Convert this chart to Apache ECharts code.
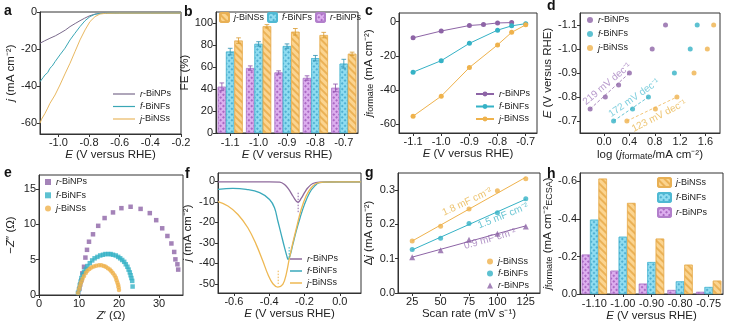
<!DOCTYPE html>
<html><head><meta charset="utf-8">
<script src="https://cdn.jsdelivr.net/npm/echarts@6/dist/echarts.min.js"></script>
<style>html,body{margin:0;padding:0;background:#fff}#c{width:737px;height:328px}</style>
</head><body><div id="c"></div>
<script>
// ---------- DATA ----------
// a: LSV
const aR_E = [-1.12,-1.09,-1.055,-1.02,-0.99,-0.955,-0.924,-0.89,-0.859,-0.83,-0.8,-0.772,-0.75,-0.729,-0.7,-0.663,-0.6,-0.5,-0.4,-0.3,-0.2];
const aR_j = [-16.9,-15.6,-14.2,-12.9,-11.5,-9.8,-7.9,-6.2,-4.7,-3.4,-2.2,-1.4,-1.0,-0.8,-0.7,-0.6,-0.6,-0.6,-0.6,-0.6,-0.6];
const aF_E = [-1.12,-1.1,-1.087,-1.07,-1.055,-1.04,-1.022,-0.99,-0.957,-0.924,-0.892,-0.859,-0.826,-0.794,-0.761,-0.729,-0.7,-0.663,-0.6,-0.5,-0.4,-0.3,-0.2];
const aF_j = [-37.7,-35.5,-34.0,-32.8,-30.4,-29.2,-26.9,-23.2,-19.6,-15.1,-11.5,-7.9,-4.7,-2.5,-1.2,-0.8,-0.7,-0.6,-0.6,-0.6,-0.6,-0.6,-0.6];
const aJ_E = [-1.12,-1.11,-1.1,-1.087,-1.07,-1.055,-1.022,-0.99,-0.957,-0.924,-0.892,-0.859,-0.826,-0.794,-0.761,-0.729,-0.7,-0.685,-0.63,-0.5,-0.4,-0.3,-0.2];
const aJ_j = [-60.2,-58.0,-58.5,-54.8,-52.0,-49.4,-44.9,-39.5,-33.5,-27.7,-21.5,-15.1,-9.7,-5.2,-2.5,-1.1,-0.8,-0.7,-0.6,-0.6,-0.6,-0.6,-0.6];
// b: FE
const bCats = ['-1.1','-1.0','-0.9','-0.8','-0.7'];
const bR = [42,59,55,50,41], bR_err = [3.5,2,1.5,2,3.5];
const bF = [74,81,79,68,63], bF_err = [3,2,2,2.5,4];
const bJ = [84,97,92,89,72], bJ_err = [2.5,1.5,3,2.5,1.5];
// c: partial current density
const cR_E = [-1.1,-1.0,-0.9,-0.85,-0.8,-0.75], cR = [-9.5,-5.5,-2.3,-1.7,-0.8,-0.6];
const cFJ_E = [-1.1,-1.0,-0.9,-0.8,-0.75,-0.7];
const cF = [-29.5,-22.8,-12.7,-5.0,-2.5,-1.2];
const cJ = [-55.2,-43.5,-26.8,-13.6,-6.3,-1.9];
// d: Tafel
const dR_E = [-0.75,-0.8,-0.85,-0.9,-1.0,-1.1], dR_log = [-0.22,0.02,0.23,0.40,0.76,0.97];
const dFJ_E = [-0.7,-0.75,-0.8,-0.9,-1.0,-1.1];
const dF_log = [0.15,0.45,0.70,1.11,1.36,1.47];
const dJ_log = [0.36,0.81,1.15,1.42,1.63,1.73];
const dSlopes = ['219 mV dec⁻¹','172 mV dec⁻¹','123 mV dec⁻¹'];
// e: Nyquist
const eR_x = [9.8,10.1,10.3,10.6,10.85,11.26,11.6,12.0,12.5,13.5,14.8,16.4,18.5,20.6,22.9,25.4,27.7,29.3,30.8,32.1,33.1,33.8,34.1,34.6,34.8];
const eR_y = [0.3,0.9,1.5,2.1,3.07,4.0,5.3,6.4,7.55,8.6,9.8,10.9,11.7,12.3,12.5,12.2,11.6,10.6,9.45,8.36,7.3,6.1,5.05,4.35,3.6];
const eF_x = [9.75,10.0,10.2,10.4,10.6,10.9,11.26,11.7,12.1,12.7,13.3,13.9,14.6,15.3,16.0,16.6,17.3,17.9,18.5,19.2,19.8,20.3,20.8,21.3,21.7,22.1,22.4,22.7,22.9,23.1,23.3,23.4];
const eF_y = [0.3,0.8,1.4,1.9,2.4,2.9,3.3,3.7,4.1,4.5,4.9,5.2,5.4,5.6,5.7,5.8,5.8,5.8,5.7,5.6,5.4,5.2,4.96,4.7,4.35,4.0,3.6,3.2,2.8,2.4,2.0,1.2];
const eJ_x = [9.75,10.0,10.2,10.4,10.6,10.9,11.26,11.7,12.1,12.6,13.1,13.7,14.3,15.0,15.6,16.2,16.7,17.2,17.7,18.1,18.5,18.9,19.2,19.4,19.6,19.8,19.9,20.0];
const eJ_y = [0.3,0.8,1.2,1.6,1.9,2.3,2.7,3.1,3.45,3.7,3.9,4.05,4.15,4.2,4.2,4.1,4.0,3.8,3.6,3.35,3.07,2.75,2.45,2.1,1.75,1.4,1.1,0.7];
// f: OH- adsorption
const fR_E = [-0.69,-0.5,-0.4,-0.34,-0.313,-0.289,-0.266,-0.247,-0.236,-0.219,-0.2,-0.181,-0.153,-0.115,-0.05,0.05,0.12];
const fR_j = [-0.2,-0.2,-0.2,-0.3,-1.5,-3.9,-7.1,-9.6,-10.1,-8.3,-5.5,-3.1,-1.0,-0.3,-0.2,-0.2,-0.2];
const fF_E = [-0.69,-0.606,-0.53,-0.454,-0.398,-0.37,-0.351,-0.332,-0.313,-0.3,-0.293,-0.281,-0.266,-0.247,-0.225,-0.2,-0.171,-0.143,-0.115,-0.068,0.0,0.12];
const fF_j = [-3.9,-3.4,-3.9,-5.5,-8.8,-12.8,-19.3,-25.8,-32.3,-36.4,-38,-35.9,-30.7,-24.2,-17.7,-11.2,-5.5,-2.3,-0.6,-0.3,-0.2,-0.2];
const fJ_E = [-0.69,-0.634,-0.577,-0.521,-0.474,-0.436,-0.407,-0.379,-0.351,-0.323,-0.304,-0.285,-0.266,-0.243,-0.219,-0.191,-0.162,-0.134,-0.096,0.0,0.12];
const fJ_j = [-9.9,-12,-16.1,-22.6,-30.7,-38.8,-45.4,-49.9,-51.5,-50.2,-45.4,-37.2,-29.9,-21.8,-13.7,-7.1,-3.1,-1.0,-0.3,-0.2,-0.2];
const fMark_E = [-0.236,-0.287,-0.349], fMark_top = [-5.5,-32,-43.5], fMark_bot = [-15,-37.5,-50];
// g: double-layer capacitance
const gScan = [25,50,75,100,125];
const gJ = [0.152,0.195,0.245,0.298,0.333];
const gF = [0.127,0.160,0.203,0.234,0.275];
const gR = [0.104,0.125,0.155,0.173,0.194];
const gCdl = ['1.8 mF cm⁻²','1.5 mF cm⁻²','0.9 mF cm⁻²'];
// h: ECSA-normalized
const hCats = ['-1.10','-1.00','-0.90','-0.80','-0.75'];
const hR = [-0.21,-0.124,-0.055,-0.021,-0.011];
const hF = [-0.396,-0.305,-0.17,-0.067,-0.037];
const hJ = [-0.615,-0.485,-0.295,-0.156,-0.071];

// ---------- STYLE ----------
const FF = 'Liberation Sans, Arial, sans-serif';
const P = '#8d64a6', C = '#35b2c6', O = '#efb24c';
const PL = '#7a6a8c', CL = '#3aa7b5', OL = '#e9b860';
const names = ['r-BiNPs','f-BiNFs','j-BiNSs'];
const N = (n, p) => n + '#' + p;
const chart = echarts.init(document.getElementById('c'));

const grids = [
  {left:40, top:12, width:141, height:122},
  {left:216, top:12, width:142, height:121},
  {left:399, top:13, width:138, height:120},
  {left:580, top:13, width:140, height:120},
  {left:39, top:175, width:144, height:120},
  {left:218, top:173, width:143, height:120},
  {left:398, top:173, width:142, height:120},
  {left:580, top:173, width:143, height:121}
].map(g => Object.assign({show:true, borderColor:'#333', borderWidth:1, backgroundColor:'transparent'}, g));

const f1 = v => v.toFixed(1);
const f0 = v => String(Math.round(v));
const nameStyle = {fontSize:11.5, color:'#222', fontFamily:FF,
  rich:{i:{fontStyle:'italic', fontSize:11.5, fontFamily:FF}, s:{fontSize:9, fontFamily:FF, verticalAlign:'bottom', padding:[4,0,0,0]}}};
function vAx(gi, min, max, ticks, fmt, extra) {
  return Object.assign({type:'value', gridIndex:gi, min, max,
    axisLine:{show:true, onZero:false, lineStyle:{color:'#333', width:1}},
    axisTick:{show:true, length:3, inside:false, customValues:ticks, lineStyle:{color:'#333'}},
    axisLabel:{customValues:ticks, fontSize:11, color:'#222', margin:3, fontFamily:FF, formatter:fmt},
    splitLine:{show:false}, nameLocation:'middle', nameTextStyle:nameStyle}, extra);
}
function cAx(gi, cats, extra) {
  return Object.assign({type:'category', gridIndex:gi, data:cats, boundaryGap:true,
    axisLine:{show:true, lineStyle:{color:'#333', width:1}},
    axisTick:{show:true, length:3, alignWithLabel:true, lineStyle:{color:'#333'}},
    axisLabel:{fontSize:11, color:'#222', margin:4, fontFamily:FF, interval:0},
    splitLine:{show:false}, nameLocation:'middle', nameTextStyle:nameStyle}, extra);
}
const EX = '{i|E} (V versus RHE)';
const xAxis = [
  vAx(0, -1.12, -0.2, [-1.0,-0.8,-0.6,-0.4,-0.2], f1, {name:EX, nameGap:13}),
  cAx(1, bCats, {name:EX, nameGap:14}),
  vAx(2, -1.15, -0.66, [-1.1,-1.0,-0.9,-0.8,-0.7], f1, {name:EX, nameGap:14}),
  vAx(3, -0.38, 1.83, [-0.4,0,0.4,0.8,1.2,1.6], f1, {name:'log ({i|j}{s|formate}/mA cm⁻²)', nameGap:15}),
  vAx(4, 0, 36, [0,10,20,30], f0, {name:'{i|Z}′ (Ω)', nameGap:14}),
  vAx(5, -0.69, 0.12, [-0.6,-0.4,-0.2,0.0], f1, {name:EX, nameGap:12}),
  vAx(6, 12.5, 137.5, gScan, f0, {name:'Scan rate (mV s⁻¹)', nameGap:12}),
  cAx(7, hCats, {name:EX, nameGap:14})
];
const yAxis = [
  vAx(0, -66, 0, [0,-20,-40,-60], f0, {name:'{i|j} (mA cm⁻²)', nameGap:21}),
  vAx(1, 0, 110, [0,20,40,60,80,100], f0, {name:'FE (%)', nameGap:24}),
  vAx(2, -65, 5, [0,-20,-40,-60], f0, {name:'{i|j}{s|formate} (mA cm⁻²)', nameGap:24}),
  vAx(3, -1.15, -0.65, [-1.1,-1.0,-0.9,-0.8,-0.7], f1, {inverse:true, name:'{i|E} (V versus RHE)', nameGap:22}),
  vAx(4, 0, 17, [0,5,10,15], f0, {name:'−{i|Z}″ (Ω)', nameGap:22}),
  vAx(5, -54.4, 4.1, [0,-10,-20,-30,-40,-50], f0, {name:'{i|j} (mA cm⁻²)', nameGap:24}),
  vAx(6, 0, 0.35, [0,0.1,0.2,0.3], f1, {name:'Δ{i|j} (mA cm⁻²)', nameGap:23}),
  vAx(7, -0.645, 0, [0,-0.2,-0.4,-0.6], f1, {inverse:true, name:'{i|j}{s|formate} (mA cm⁻²{s|ECSA})', nameGap:22})
];

const xy = (xs, ys) => xs.map((x, i) => [x, ys[i]]);
const series = [];
function line(gi, nm, xs, ys, color, extra) {
  series.push(Object.assign({type:'line', name:nm, xAxisIndex:gi, yAxisIndex:gi, data:xy(xs, ys),
    symbol:'none', lineStyle:{color, width:1}, itemStyle:{color}, animation:false}, extra));
}
function scat(gi, nm, xs, ys, color, sym, size) {
  series.push({type:'scatter', name:nm, xAxisIndex:gi, yAxisIndex:gi, data:xy(xs, ys),
    symbol:sym, symbolSize:size, itemStyle:{color}, animation:false});
}
// a
line(0, N(names[0],'a'), aR_E, aR_j, PL);
line(0, N(names[1],'a'), aF_E, aF_j, CL);
line(0, N(names[2],'a'), aJ_E, aJ_j, OL);
// b bars
const decalO = {symbol:'rect', symbolSize:1, color:'rgba(222,150,40,0.55)', dashArrayX:[1,0], dashArrayY:[1.2,2.2], rotation:Math.PI/4};
const decalC = {symbol:'rect', symbolSize:1, color:'rgba(30,140,185,0.55)', dashArrayX:[1.3,1.3], dashArrayY:[1.3,1.3], rotation:Math.PI/4};
const decalP = {symbol:'rect', symbolSize:1, color:'rgba(130,50,160,0.55)', dashArrayX:[1.3,1.3], dashArrayY:[1.3,1.3], rotation:Math.PI/4};
const barStyles = [
  {color:'#dcaeee', borderColor:'#b27fcb', borderWidth:0.6, decal:decalP},
  {color:'#8fdcf0', borderColor:'#4fb9d3', borderWidth:0.6, decal:decalC},
  {color:'#fbd48f', borderColor:'#e8b055', borderWidth:0.6, decal:decalO}
];
function bars(gi, p, vals) {
  vals.forEach((v, k) => series.push({type:'bar', name:N(names[k], p), xAxisIndex:gi, yAxisIndex:gi, data:v,
    barGap:'0%', barCategoryGap:'12%', itemStyle:barStyles[k], animation:false}));
}
bars(1, 'b', [bR, bF, bJ]);
function errSeries(gi, vals, errs, idx, color) {
  series.push({type:'custom', xAxisIndex:gi, yAxisIndex:gi, silent:true, z:5, animation:false,
    data: vals.map((v, i) => [i, v, errs[i]]), encode:{x:0, y:1},
    renderItem: (params, api) => {
      const i = api.value(0), v = api.value(1), e = api.value(2);
      const cw = api.size([1, 0])[0], bw = cw * 0.88 / 3;
      const x = api.coord([i, v])[0] + (idx - 1) * bw;
      const y1 = api.coord([i, v + e])[1], y2 = api.coord([i, v - e])[1];
      const hw = bw * 0.28, st = {stroke:color, lineWidth:0.8};
      return {type:'group', children:[
        {type:'line', shape:{x1:x, y1:y1, x2:x, y2:y2}, style:st},
        {type:'line', shape:{x1:x-hw, y1:y1, x2:x+hw, y2:y1}, style:st},
        {type:'line', shape:{x1:x-hw, y1:y2, x2:x+hw, y2:y2}, style:st}]};
    }});
}
errSeries(1, bR, bR_err, 0, '#8a4fa8');
errSeries(1, bF, bF_err, 1, '#2b8fb0');
errSeries(1, bJ, bJ_err, 2, '#d99a30');
// c
const cOpt = () => ({symbol:'circle', symbolSize:5, showSymbol:true});
line(2, N(names[0],'c'), cR_E, cR, P, cOpt());
line(2, N(names[1],'c'), cFJ_E, cF, C, cOpt());
line(2, N(names[2],'c'), cFJ_E, cJ, O, cOpt());
// d
scat(3, N(names[0],'d'), dR_log, dR_E, P, 'circle', 5);
scat(3, N(names[1],'d'), dF_log, dFJ_E, C, 'circle', 5);
scat(3, N(names[2],'d'), dJ_log, dFJ_E, O, 'circle', 5);
const dash = (gi, pts, color) => series.push({type:'line', xAxisIndex:gi, yAxisIndex:gi, data:pts, symbol:'none', silent:true,
  lineStyle:{color, width:1, type:[3,2], opacity:0.75}, animation:false});
dash(3, [[dR_log[0], dR_E[0]], [dR_log[3], dR_E[3]]], P);
dash(3, [[dF_log[0], dFJ_E[0]], [dF_log[2], dFJ_E[2]]], C);
dash(3, [[dJ_log[0], dFJ_E[0]], [dJ_log[2], dFJ_E[2]]], O);
// e
scat(4, N(names[0],'e'), eR_x, eR_y, P, 'rect', 4.5);
scat(4, N(names[1],'e'), eF_x, eF_y, C, 'rect', 4.5);
scat(4, N(names[2],'e'), eJ_x, eJ_y, O, 'circle', 4.5);
// f
line(5, N(names[0],'f'), fR_E, fR_j, '#8e6a9c', {smooth:0.4, lineStyle:{color:'#8e6a9c', width:1.3}});
line(5, N(names[1],'f'), fF_E, fF_j, '#3aa9bb', {smooth:0.4, lineStyle:{color:'#3aa9bb', width:1.3}});
line(5, N(names[2],'f'), fJ_E, fJ_j, '#eeb853', {smooth:0.4, lineStyle:{color:'#eeb853', width:1.3}});
[P, C, O].forEach((col, k) => series.push({type:'line', xAxisIndex:5, yAxisIndex:5, silent:true, symbol:'none', animation:false,
  data:[[fMark_E[k], fMark_top[k]], [fMark_E[k], fMark_bot[k]]], lineStyle:{color:col, width:1, type:[1.5,1.5]}}));
// g
function fit(xs, ys) {
  const n = xs.length, mx = xs.reduce((a,b)=>a+b)/n, my = ys.reduce((a,b)=>a+b)/n;
  let sxy = 0, sxx = 0; xs.forEach((x,i) => { sxy += (x-mx)*(ys[i]-my); sxx += (x-mx)*(x-mx); });
  const b = sxy/sxx, a = my - b*mx;
  return [[xs[0], a + b*xs[0]], [xs[n-1], a + b*xs[n-1]]];
}
[[gJ, O], [gF, C], [gR, P]].forEach(([ys, col]) => series.push({type:'line', xAxisIndex:6, yAxisIndex:6, silent:true,
  symbol:'none', data:fit(gScan, ys), lineStyle:{color:col, width:1}, animation:false}));
scat(6, N(names[2],'g'), gScan, gJ, O, 'circle', 5);
scat(6, N(names[1],'g'), gScan, gF, C, 'circle', 5);
scat(6, N(names[0],'g'), gScan, gR, P, 'triangle', 6);
// h
bars(7, 'h', [hR, hF, hJ]);

// ---------- LEGENDS ----------
const legFmt = name => { const b = name.split('#')[0]; return '{i|' + b[0] + '}{n|' + b.slice(1) + '}'; };
const legText = {fontSize:9, color:'#222', fontFamily:FF, rich:{i:{fontStyle:'italic', fontSize:9, fontFamily:FF}, n:{fontSize:9, fontFamily:FF}}};
function leg(p, order, opts) {
  return Object.assign({data:order.map(k => N(names[k], p)), formatter:legFmt, textStyle:legText, padding:0,
    orient:'vertical', itemGap:3, itemHeight:10, selectedMode:false}, opts);
}
const legend = [
  leg('a', [0,1,2], {left:113, top:89.5, itemWidth:22, itemHeight:1.2, icon:'rect', itemGap:3.5}),
  leg('b', [2,1,0], {left:219, top:12, orient:'horizontal', itemWidth:9, itemHeight:9, itemGap:3}),
  leg('c', [0,1,2], {left:475, top:89.5, itemWidth:18, itemHeight:6, itemGap:3.5}),
  leg('d', [0,1,2], {left:587, top:15.5, itemWidth:6, itemHeight:6, itemGap:5}),
  leg('e', [0,1,2], {left:45, top:177.5, itemWidth:6, itemHeight:6, itemGap:4.3}),
  leg('f', [0,1,2], {left:290, top:254.5, itemWidth:12, itemHeight:1.5, icon:'rect', itemGap:3}),
  leg('g', [2,1,0], {left:487, top:257, itemWidth:6, itemHeight:6, itemGap:3}),
  leg('h', [2,1,0], {left:657, top:177, itemWidth:13, itemHeight:9, itemGap:4})
];

// ---------- ANNOTATIONS ----------
const letters = [['a',4,4],['b',184,5],['c',365,4],['d',547,-1],['e',4,166],['f',185,167],['g',365,166],['h',547,167]];
const graphic = letters.map(([t, x, y]) => ({type:'text', x, y, silent:true,
  style:{text:t, font:'bold 14px ' + FF, fill:'#111', textVerticalAlign:'top'}}));
const ann = (t, x, y, deg, col) => graphic.push({type:'text', x, y, rotation:deg*Math.PI/180, silent:true,
  style:{text:t, font:'10px ' + FF, fill:col, align:'center', verticalAlign:'middle', opacity:0.8}});
ann(dSlopes[0], 607, 84, 40, '#a57fbf');
ann(dSlopes[1], 634, 98, 35, '#5cc2d4');
ann(dSlopes[2], 659, 116, 27, '#e8b54d');
ann(gCdl[0], 467, 202, 25, '#e8b54d');
ann(gCdl[1], 503, 216, 22, '#45b6c8');
ann(gCdl[2], 490, 239, 16, '#9d77b8');

chart.setOption({animation:false, backgroundColor:'#fff', textStyle:{fontFamily:FF},
  grid:grids, xAxis, yAxis, series, legend, graphic});
</script></body></html>
